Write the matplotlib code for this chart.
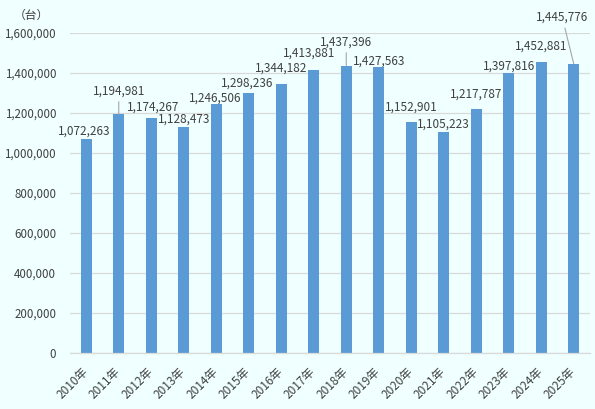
#!/usr/bin/env python3

"""
Annual units bar chart, 2010-2025
"""

import matplotlib
matplotlib.use('Agg')
import matplotlib.pyplot as plt

plt.rcParams['font.family'] = ['Noto Sans CJK JP', 'DejaVu Sans']

years = ['2010年', '2011年', '2012年', '2013年', '2014年', '2015年', '2016年', '2017年',
         '2018年', '2019年', '2020年', '2021年', '2022年', '2023年', '2024年', '2025年']
units = [1072263, 1194981, 1174267, 1128473, 1246506, 1298236, 1344182, 1413881,
         1437396, 1427563, 1152901, 1105223, 1217787, 1397816, 1452881, 1445776]
yticks = [0, 200000, 400000, 600000, 800000, 1000000, 1200000, 1400000, 1600000]

# label offsets from bar top (pixels), and which labels get a leader line
label_dx = [-2, 0, 1.5, 0.5, -1.5, -1.5, 0, -5, 0, 0, 0, 0, 0, 0, 0, -11.5]
label_dy = [7, 23, 11, 8, 6, 10, 16, 17, 23.5, 6.5, 15, 8, 15, 7, 16, 46.5]
leader = [False, True, False, False, False, False, False, False,
          True, False, False, False, False, False, False, True]

BG = '#F0FFFF'
BAR = '#5B9BD5'
GRID = '#D9D9D9'
TXT = '#404040'

fig = plt.figure(figsize=(5.95, 4.09), dpi=100, facecolor=BG)
ax = fig.add_axes([70 / 595, 56 / 409, 520 / 595, 320 / 409], facecolor=BG)

x = range(len(years))
ax.bar(x, units, width=0.34, color=BAR, zorder=2)

ax.set_xlim(-0.5, len(years) - 0.5)
ax.set_ylim(0, 1600000)
ax.set_yticks(yticks)
ax.set_yticklabels([f'{v:,}' for v in yticks], fontsize=8.3, color=TXT)
ax.set_xticks(list(x))
ax.set_xticklabels(years, fontsize=8.5, color=TXT, rotation=45,
                   ha='right', va='center', rotation_mode='anchor')
ax.tick_params(axis='both', length=0)
ax.tick_params(axis='y', pad=10)
ax.tick_params(axis='x', pad=12)

ax.grid(axis='y', color=GRID, linewidth=0.9, zorder=0)
for side in ('top', 'right', 'left'):
    ax.spines[side].set_visible(False)
ax.spines['bottom'].set_color(GRID)
ax.spines['bottom'].set_linewidth(0.9)

for i, v in enumerate(units):
    arrow = None
    if leader[i]:
        arrow = dict(arrowstyle='-', color='#A6A6A6', lw=0.8,
                     shrinkA=1, shrinkB=0)
    ax.annotate(f'{v:,}', xy=(i, v), xytext=(label_dx[i], label_dy[i]),
                textcoords='offset pixels', ha='center', va='center',
                fontsize=8.5, color=TXT, arrowprops=arrow,
                annotation_clip=False, zorder=3)

fig.text(31 / 595, 1 - 15 / 409, '（台）', ha='center', va='center',
         fontsize=8.5, color=TXT)

fig.savefig('out.png', dpi=100, facecolor=BG)
